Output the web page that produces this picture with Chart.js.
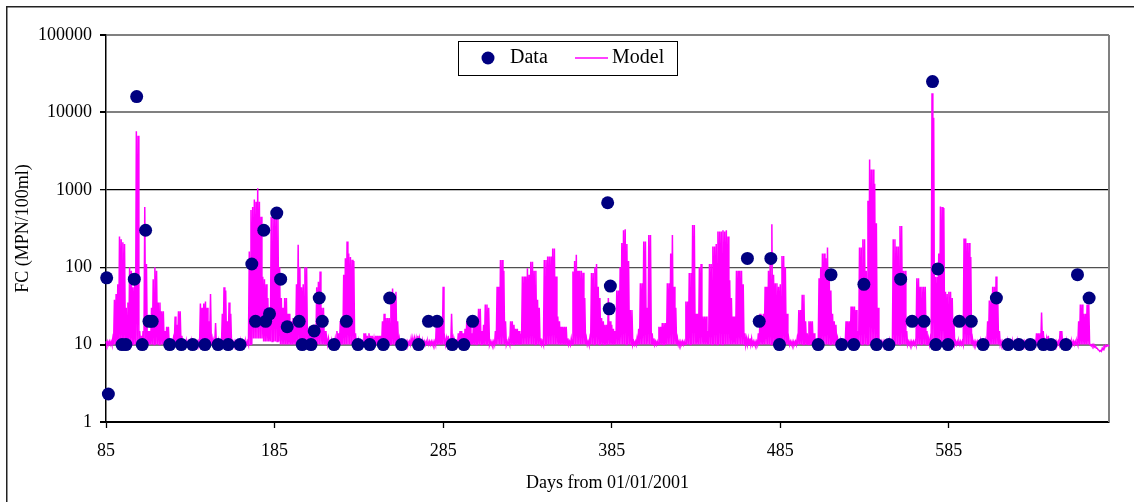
<!DOCTYPE html>
<html>
<head>
<meta charset="utf-8">
<title>FC data and model</title>
<script src="https://cdn.jsdelivr.net/npm/chart.js@4.4.1/dist/chart.umd.min.js"></script>
<style>
    body { margin: 0; background: #ffffff; }
    canvas { display: block; }
</style>
</head>
<body>
<canvas id="fcChart" width="1134" height="502"></canvas>
<script>
// Axis tick labels
const xTicks = [85, 185, 285, 385, 485, 585];
const yTicks = [1, 10, 100, 1000, 10000, 100000];

// Measured FC (MPN/100ml) against days from 01/01/2001
const dataDays = [
    85.4, 86.4, 94.5, 96.8, 101.8, 103.2, 106.5, 108.5, 110.5, 112.4,
    122.8, 129.7, 136.4, 143.7, 151.5, 157.5, 164.5, 171.5, 173.7, 178.6,
    179.7, 182, 186.3, 188.6, 192.5, 199.6, 201.4, 206.6, 208.5, 211.5,
    213.3, 220.3, 227.6, 234.5, 241.5, 249.5, 253.3, 260.4, 270.4, 276.3,
    281.4, 290.4, 297.3, 302.5, 382.6, 383.5, 384.2, 465.5, 472.5, 479.4,
    484.5, 507.5, 515.1, 521.4, 528.6, 534.6, 542.1, 549.4, 556.4, 563.2,
    570.3, 575.3, 577.3, 578.5, 584.5, 591.2, 598.3, 605.3, 613.2, 620.1,
    626.5, 633.3, 641.1, 645.6, 654.4, 661.3, 668.2
];
const dataValues = [
    73, 2.3, 10, 10, 70, 16000, 10, 300, 20, 20,
    10, 10, 10, 10, 10, 10, 10, 110, 20, 300,
    20, 25, 500, 70, 17, 20, 10, 10, 15, 40,
    20, 10, 20, 10, 10, 10, 40, 10, 10, 20,
    20, 10, 10, 20, 680, 29, 57, 130, 20, 130,
    10, 10, 80, 10, 10, 60, 10, 10, 70, 20,
    20, 25000, 10, 95, 10, 20, 20, 10, 40, 10,
    10, 10, 10, 10, 10, 80, 40
];

// Model output, one daily maximum and minimum per day from modelStart
const modelStart = 85;
const modelHigh = [
    11, 11, 11, 11, 12, 38, 45, 60, 250, 230, 210, 200, 30, 35, 100, 90, 55, 60, 5700, 5000,
    15, 13, 15, 600, 110, 15, 15, 30, 70, 100, 90, 35, 35, 27, 27, 15, 17, 17, 11, 11,
    12, 23, 18, 27, 27, 13, 11, 11, 11, 11, 11, 11, 11, 11, 11, 11, 34, 30, 34, 36,
    30, 20, 45, 12, 11, 19, 11, 11, 11, 25, 55, 50, 20, 35, 25, 11, 11, 11, 11, 11,
    11, 11, 11, 11, 11, 160, 550, 600, 750, 700, 1050, 700, 450, 75, 70, 60, 40, 25, 450, 500,
    500, 480, 480, 100, 40, 30, 40, 40, 25, 25, 20, 22, 22, 60, 195, 100, 55, 60, 100, 100,
    15, 17, 17, 18, 14, 55, 65, 88, 30, 30, 15, 12, 12, 11, 11, 11, 12, 15, 14, 20,
    20, 80, 130, 215, 150, 135, 125, 120, 14, 11, 11, 11, 11, 14, 14, 13, 14, 13, 13, 12,
    13, 13, 13, 13, 20, 25, 22, 22, 22, 35, 53, 45, 48, 20, 12, 11, 11, 11, 11, 11,
    11, 12, 12, 12, 12, 13, 12, 11, 11, 11, 11, 11, 11, 11, 11, 11, 20, 20, 20, 20,
    56, 12, 12, 13, 12, 25, 12, 11, 11, 14, 15, 15, 14, 16, 20, 22, 18, 14, 20, 20,
    20, 29, 29, 15, 18, 33, 33, 30, 11, 11, 11, 15, 56, 56, 124, 124, 90, 20, 11, 11,
    20, 20, 18, 16, 16, 15, 12, 76, 76, 76, 97, 80, 118, 118, 90, 90, 38, 30, 12, 11,
    124, 124, 137, 137, 137, 175, 175, 76, 23, 20, 17, 17, 17, 17, 12, 11, 12, 88, 120, 145,
    90, 90, 90, 85, 40, 12, 11, 12, 84, 84, 100, 110, 56, 40, 22, 20, 18, 18, 40, 20,
    18, 16, 15, 50, 50, 100, 205, 300, 310, 200, 120, 28, 28, 11, 11, 12, 16, 62, 62, 215,
    215, 30, 260, 260, 14, 12, 11, 11, 17, 17, 19, 19, 19, 62, 62, 150, 260, 56, 30, 12,
    11, 11, 11, 11, 36, 36, 84, 84, 350, 350, 25, 25, 100, 110, 23, 23, 23, 15, 110, 110,
    185, 185, 200, 290, 290, 290, 300, 290, 300, 250, 68, 40, 23, 23, 90, 90, 90, 90, 60, 14,
    12, 12, 12, 12, 11, 11, 11, 14, 25, 20, 25, 56, 56, 90, 112, 360, 80, 62, 62, 56,
    60, 140, 140, 100, 25, 12, 11, 11, 11, 11, 12, 28, 28, 44, 44, 20, 14, 20, 20, 20,
    14, 11, 11, 72, 100, 150, 150, 130, 180, 84, 50, 25, 20, 18, 12, 11, 11, 11, 11, 20,
    20, 20, 31, 31, 31, 28, 15, 180, 180, 230, 230, 90, 720, 2470, 1830, 1830, 1200, 370, 30, 11,
    11, 11, 11, 11, 11, 11, 11, 230, 230, 185, 185, 340, 340, 90, 90, 15, 11, 11, 11, 11,
    11, 72, 72, 56, 56, 56, 56, 15, 12, 12, 17700, 8500, 75, 75, 150, 610, 600, 580, 48, 45,
    48, 48, 40, 20, 11, 11, 11, 11, 11, 235, 235, 205, 205, 135, 12, 11, 11, 11, 11, 11,
    11, 11, 11, 20, 37, 37, 56, 56, 76, 40, 15, 11, 11, 11, 11, 11, 11, 11, 11, 11,
    11, 11, 11, 11, 11, 11, 11, 11, 11, 11, 11, 11, 14, 14, 14, 26, 15, 11, 12, 13,
    11, 11, 11, 11, 11, 11, 15, 15, 11, 11, 11, 11, 11, 11, 11, 11, 11, 20, 33, 33,
    25, 25, 33, 33, 10, 10, 10, 9.5, 9, 8.5, 8.4, 9, 9.5, 9.8, 9.8, 9.9, 9.9, 9.9, 9.9, 9.9
];
const modelLow = [
    10, 10, 10, 10, 10, 10, 10, 10, 10, 10, 10, 10, 10, 10, 10, 10, 10, 10, 10, 10,
    10, 10, 10, 10, 10, 10, 10, 10, 10, 10, 10, 10, 10, 10, 10, 10, 10, 10, 10, 10,
    10, 10, 10, 10, 10, 10, 10, 10, 10, 10, 10, 10, 10, 10, 10, 10, 10, 10, 10, 10,
    10, 10, 10, 10, 10, 10, 10, 10, 10, 10, 10, 10, 10, 10, 10, 10, 10, 10, 10, 10,
    10, 10, 10, 10, 10, 10, 10, 12, 12, 12, 12, 12, 12, 11, 11, 11, 11, 11, 11, 11,
    11, 11, 11, 10, 10, 10, 10, 10, 10, 10, 10, 10, 10, 10, 10, 10, 10, 10, 10, 10,
    10, 10, 10, 10, 10, 10, 10, 10, 10, 10, 10, 10, 10, 10, 10, 10, 10, 10, 10, 10,
    10, 10, 10, 10, 10, 10, 10, 10, 10, 10, 10, 10, 10, 10, 10, 10, 10, 10, 10, 10,
    10, 10, 10, 10, 10, 10, 10, 10, 10, 10, 10, 10, 10, 10, 10, 10, 10, 10, 10, 10,
    10, 10, 10, 10, 10, 10, 10, 10, 10, 10, 10, 10, 10, 10, 10, 10, 10, 10, 10, 10,
    10, 10, 10, 10, 10, 10, 10, 10, 10, 10, 10, 10, 10, 10, 10, 10, 10, 10, 10, 10,
    10, 10, 10, 10, 10, 10, 10, 10, 10, 10, 10, 10, 10, 10, 10, 10, 10, 10, 10, 10,
    10, 10, 10, 10, 10, 10, 10, 10, 10, 10, 10, 10, 10, 10, 10, 10, 10, 10, 10, 10,
    10, 10, 10, 10, 10, 10, 10, 10, 10, 10, 10, 10, 10, 10, 10, 10, 10, 10, 10, 10,
    10, 10, 10, 10, 10, 10, 10, 10, 10, 10, 10, 10, 10, 10, 10, 10, 10, 10, 10, 10,
    10, 10, 10, 10, 10, 10, 10, 10, 10, 10, 10, 10, 10, 10, 10, 10, 10, 10, 10, 10,
    10, 10, 10, 10, 10, 10, 10, 10, 10, 10, 10, 10, 10, 10, 10, 10, 10, 10, 10, 10,
    10, 10, 10, 10, 10, 10, 10, 10, 10, 10, 10, 10, 10, 10, 10, 10, 10, 10, 10, 10,
    10, 10, 10, 10, 10, 10, 10, 10, 10, 10, 10, 10, 10, 10, 10, 10, 10, 10, 10, 10,
    10, 10, 10, 10, 10, 10, 10, 10, 10, 10, 10, 10, 10, 10, 10, 10, 10, 10, 10, 10,
    10, 10, 10, 10, 10, 10, 10, 10, 10, 10, 10, 10, 10, 10, 10, 10, 10, 10, 10, 10,
    10, 10, 10, 10, 10, 10, 10, 10, 10, 10, 10, 10, 10, 10, 10, 10, 10, 10, 10, 10,
    10, 10, 10, 10, 10, 10, 10, 10, 10, 10, 10, 10, 10, 10, 10, 10, 10, 10, 10, 10,
    10, 10, 10, 10, 10, 10, 10, 10, 10, 10, 10, 10, 10, 10, 10, 10, 10, 10, 10, 10,
    10, 10, 10, 10, 10, 10, 10, 10, 10, 10, 10, 10, 10, 10, 10, 10, 10, 10, 10, 10,
    10, 10, 10, 10, 10, 10, 10, 10, 10, 10, 10, 10, 10, 10, 10, 10, 10, 10, 10, 10,
    10, 10, 10, 10, 10, 10, 10, 10, 10, 10, 10, 10, 10, 10, 10, 10, 10, 10, 10, 10,
    10, 10, 10, 10, 10, 10, 10, 10, 10, 10, 10, 10, 10, 10, 10, 10, 10, 10, 10, 10,
    10, 10, 10, 10, 10, 10, 10, 10, 10, 10, 10, 10, 10, 10, 10, 10, 10, 10, 10, 10,
    10, 10, 10, 10, 9.6, 9.5, 9.3, 9, 8.6, 8.2, 8.2, 8.6, 9.2, 9.5, 9.6, 9.6, 9.7, 9.7, 9.7, 9.7
];

const FONT = "'Liberation Serif', 'Times New Roman', serif";
const NAVY = '#000080';
const MAGENTA = '#ff00ff';

document.addEventListener('DOMContentLoaded', function () {
    const dataPoints = dataDays.map(function (d, i) {
        return { x: d, y: dataValues[i] };
    });

    // each model day: daily max, then the daily min half a day later
    const modelPoints = [];
    modelHigh.forEach(function (hi, i) {
        modelPoints.push({ x: modelStart + i, y: hi });
        modelPoints.push({ x: modelStart + i + 0.5, y: modelLow[i] });
    });

    // outer frame, right plot border and the boxed legend
    const framePlugin = {
        id: 'framePlugin',
        beforeDraw: function (chart) {
            const ctx = chart.ctx;
            ctx.save();
            ctx.strokeStyle = '#222222';
            ctx.lineWidth = 1.5;
            ctx.beginPath();
            ctx.moveTo(6.75, 502);
            ctx.lineTo(6.75, 6.75);
            ctx.lineTo(1134, 6.75);
            ctx.stroke();
            ctx.restore();
        },
        beforeDatasetsDraw: function (chart) {
            const ctx = chart.ctx;
            const area = chart.chartArea;
            ctx.save();
            ctx.strokeStyle = '#808080';
            ctx.lineWidth = 2;
            ctx.beginPath();
            ctx.moveTo(area.right, area.top);
            ctx.lineTo(area.right, area.bottom);
            ctx.stroke();
            ctx.restore();
        },
        afterDraw: function (chart) {
            const ctx = chart.ctx;
            const area = chart.chartArea;
            const left = area.left + 352;
            const top = area.top + 6;
            const midY = top + 17;
            ctx.save();
            ctx.fillStyle = '#ffffff';
            ctx.fillRect(left, top, 219, 34);
            ctx.strokeStyle = '#000000';
            ctx.lineWidth = 1;
            ctx.strokeRect(left + 0.5, top + 0.5, 219, 34);

            ctx.fillStyle = NAVY;
            ctx.beginPath();
            ctx.arc(left + 30, midY, 6.5, 0, Math.PI * 2);
            ctx.fill();

            ctx.strokeStyle = MAGENTA;
            ctx.lineWidth = 1.5;
            ctx.beginPath();
            ctx.moveTo(left + 117, midY);
            ctx.lineTo(left + 150, midY);
            ctx.stroke();

            ctx.fillStyle = '#000000';
            ctx.font = '20px ' + FONT;
            ctx.textBaseline = 'middle';
            ctx.fillText('Data', left + 52, midY);
            ctx.fillText('Model', left + 154, midY);
            ctx.restore();
        }
    };

    const ctx = document.getElementById('fcChart').getContext('2d');

    const fcChart = new Chart(ctx, {
        type: 'scatter',
        data: {
            datasets: [
                {
                    label: 'Data',
                    data: dataPoints,
                    backgroundColor: NAVY,
                    borderWidth: 0,
                    pointRadius: 6.5,
                    pointHoverRadius: 6.5,
                    clip: false
                },
                {
                    label: 'Model',
                    type: 'line',
                    data: modelPoints,
                    borderColor: MAGENTA,
                    borderWidth: 1.5,
                    pointRadius: 0,
                    tension: 0,
                    fill: false,
                    clip: false
                }
            ]
        },
        options: {
            responsive: false,
            animation: false,
            events: [],
            layout: {
                padding: { left: 0, top: 35, right: 25, bottom: 0 }
            },
            scales: {
                x: {
                    type: 'linear',
                    min: 85,
                    max: 680,
                    afterBuildTicks: function (scale) {
                        scale.ticks = xTicks.map(function (v) { return { value: v }; });
                    },
                    afterFit: function (scale) {
                        scale.height = 80;
                    },
                    ticks: {
                        color: '#000000',
                        padding: 12,
                        maxRotation: 0,
                        font: { family: FONT, size: 18 },
                        callback: function (value) { return String(value); }
                    },
                    grid: {
                        drawOnChartArea: false,
                        tickLength: 6,
                        tickColor: '#000000',
                        tickWidth: 1.3
                    },
                    border: { color: '#000000', width: 1.5 },
                    title: {
                        display: true,
                        text: 'Days from 01/01/2001',
                        color: '#000000',
                        padding: { top: 0, bottom: 8 },
                        font: { family: FONT, size: 18 }
                    }
                },
                y: {
                    type: 'logarithmic',
                    min: 1,
                    max: 100000,
                    afterBuildTicks: function (scale) {
                        scale.ticks = yTicks.map(function (v) { return { value: v }; });
                    },
                    afterFit: function (scale) {
                        scale.width = 106;
                    },
                    ticks: {
                        color: '#000000',
                        padding: 8,
                        font: { family: FONT, size: 18 },
                        callback: function (value) { return String(value); }
                    },
                    grid: {
                        tickLength: 6,
                        tickColor: '#000000',
                        color: function (context) {
                            const v = context.tick ? context.tick.value : 0;
                            if (v === 1 || v === 1000) return '#000000';
                            if (v === 100) return '#505050';
                            return '#808080';
                        },
                        lineWidth: function (context) {
                            const v = context.tick ? context.tick.value : 0;
                            return (v === 1000 || v === 100) ? 1.3 : 2;
                        }
                    },
                    border: { color: '#000000', width: 1.5 },
                    title: {
                        display: true,
                        text: 'FC (MPN/100ml)',
                        color: '#000000',
                        padding: { top: 12, bottom: 0 },
                        font: { family: FONT, size: 18 }
                    }
                }
            },
            plugins: {
                legend: { display: false },
                tooltip: { enabled: false }
            }
        },
        plugins: [framePlugin]
    });
});
</script>
</body>
</html>
